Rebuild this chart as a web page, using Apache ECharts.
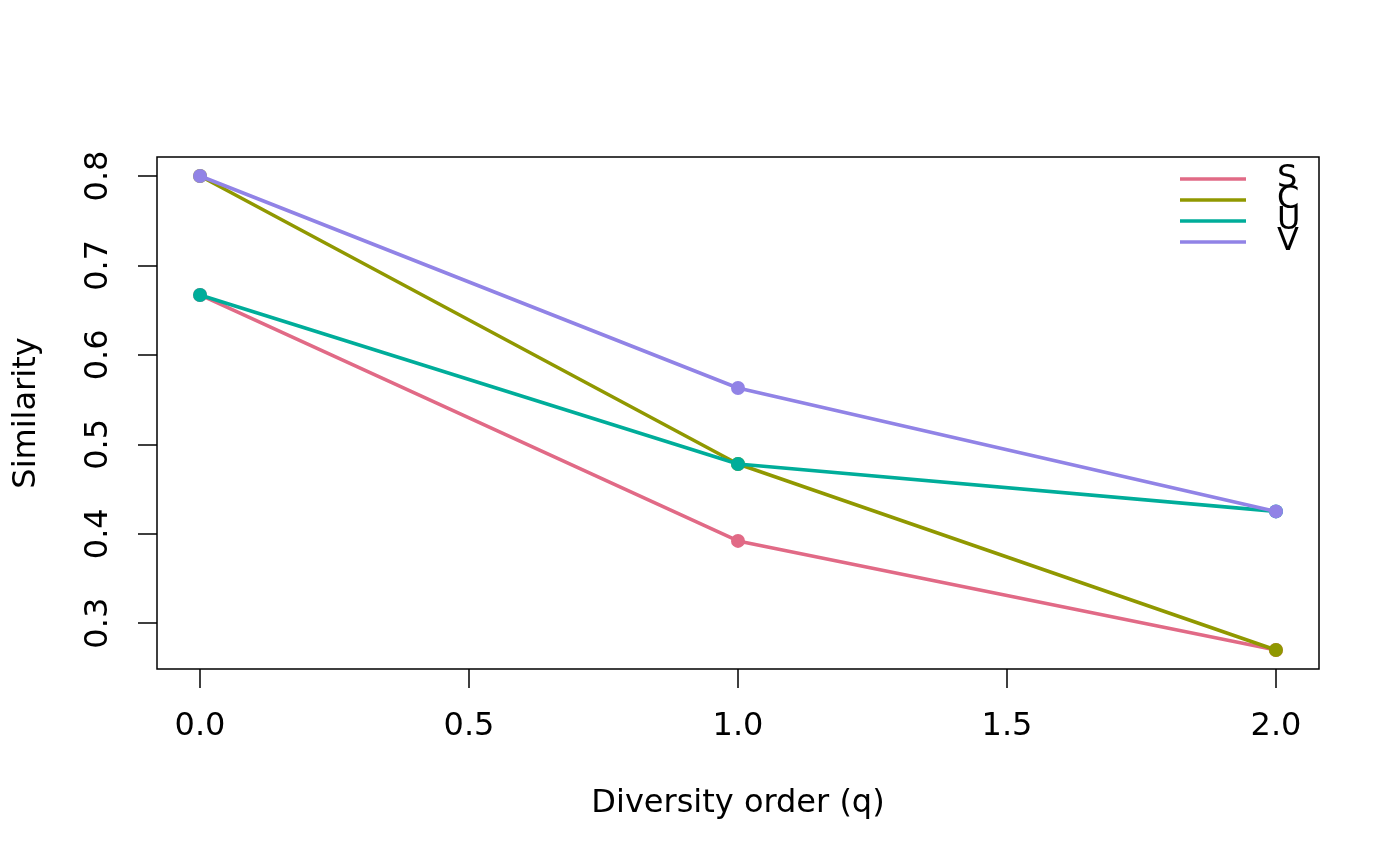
<!DOCTYPE html>
<html>
<head>
<meta charset="utf-8">
<title>Similarity by diversity order</title>
<script src="https://cdn.jsdelivr.net/npm/echarts@6.0.0/dist/echarts.min.js"></script>
<style>
  html, body { margin: 0; padding: 0; background: #ffffff; }
  #chart { width: 1400px; height: 866px; }
</style>
</head>
<body>
<div id="chart"></div>
<script>
// diversity orders on the x axis
const orders = [0, 1, 2];

// similarity values
const sValues = [0.667, 0.392, 0.270];
const cValues = [0.800, 0.478, 0.270];
const uValues = [0.667, 0.478, 0.425];
const vValues = [0.800, 0.563, 0.425];

const seriesNames = ["S", "C", "U", "V"];
const seriesColors = ["#E16A86", "#909800", "#00AD9A", "#9183E6"];

// tick positions
const xTicks = [0, 0.5, 1, 1.5, 2];
const yTicks = [0.3, 0.4, 0.5, 0.6, 0.7, 0.8];

const FONT = "DejaVu Sans";
const FS = 32;

const chart = echarts.init(document.getElementById("chart"), null, { renderer: "canvas" });

function pairs(values) {
	return orders.map((x, i) => [x, values[i]]);
}

const allValues = [sValues, cValues, uValues, vValues];

const option = {
	backgroundColor: "#ffffff",
	animation: false,
	textStyle: { fontFamily: FONT },
	grid: {
		left: 157,
		right: 81,
		top: 157,
		bottom: 197,
		show: true,
		borderColor: "#000000",
		borderWidth: 1.5,
		backgroundColor: "transparent"
	},
	// legend rows overlap like the base-R legend does
	legend: {
		orient: "vertical",
		left: 1180,
		top: 163,
		padding: 0,
		itemWidth: 66,
		itemHeight: 3.5,
		itemGap: -11,
		icon: "rect",
		data: seriesNames,
		textStyle: {
			fontFamily: FONT,
			fontSize: FS,
			color: "#000000",
			padding: [0, 0, 0, 26]
		}
	},
	xAxis: {
		type: "value",
		min: -0.08,
		max: 2.08,
		name: "Diversity order (q)",
		nameLocation: "middle",
		nameGap: 119,
		nameTextStyle: { fontFamily: FONT, fontSize: FS, color: "#000000" },
		splitLine: { show: false },
		axisLine: { show: false, onZero: false },
		axisTick: {
			show: true,
			inside: false,
			length: 19,
			customValues: xTicks,
			lineStyle: { color: "#000000", width: 1.5 }
		},
		axisLabel: {
			customValues: xTicks,
			margin: 42,
			fontFamily: FONT,
			fontSize: FS,
			color: "#000000",
			formatter: (v) => v.toFixed(1)
		}
	},
	yAxis: {
		type: "value",
		min: 0.2488,
		max: 0.8212,
		name: "Similarity",
		nameLocation: "middle",
		nameRotate: 90,
		nameGap: 114,
		nameTextStyle: { fontFamily: FONT, fontSize: FS, color: "#000000" },
		splitLine: { show: false },
		axisLine: { show: false, onZero: false },
		axisTick: {
			show: true,
			inside: false,
			length: 19,
			customValues: yTicks,
			lineStyle: { color: "#000000", width: 1.5 }
		},
		axisLabel: {
			customValues: yTicks,
			rotate: 90,
			margin: 42,
			fontFamily: FONT,
			fontSize: FS,
			color: "#000000",
			formatter: (v) => v.toFixed(1)
		}
	},
	series: seriesNames.map((name, i) => ({
		name: name,
		type: "line",
		data: pairs(allValues[i]),
		symbol: "circle",
		symbolSize: 14,
		showSymbol: true,
		lineStyle: { color: seriesColors[i], width: 3.6 },
		itemStyle: { color: seriesColors[i], borderWidth: 0 },
		emphasis: { disabled: true },
		z: 2 + i
	}))
};

chart.setOption(option);
</script>
</body>
</html>
